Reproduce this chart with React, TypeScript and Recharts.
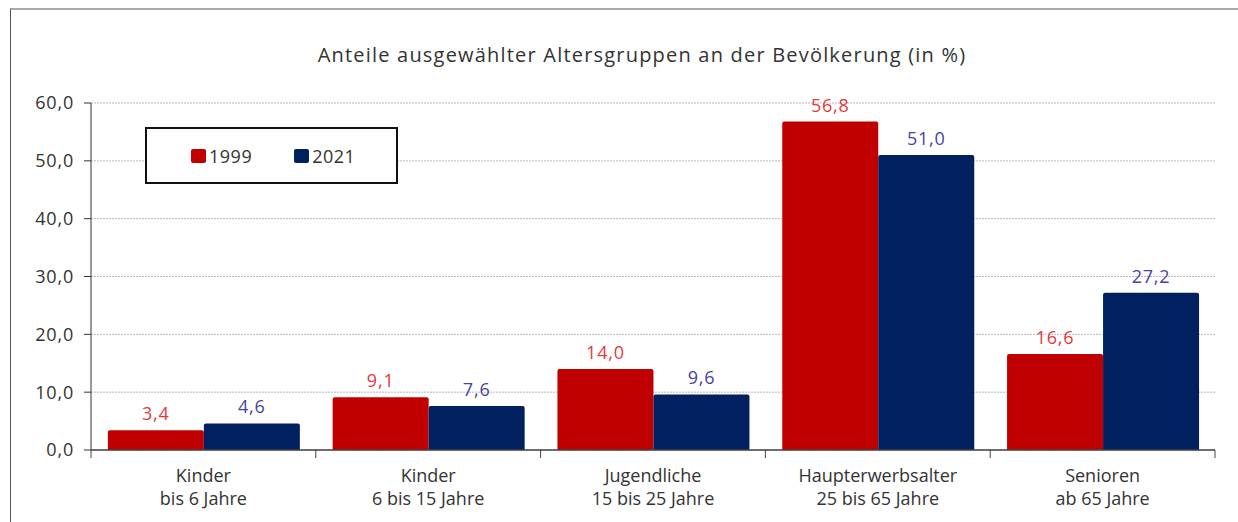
import React from "react";
import {
  Bar,
  BarChart,
  CartesianGrid,
  LabelList,
  XAxis,
  YAxis,
} from "recharts";

const categories = [
  ["Kinder", "bis 6 Jahre"],
  ["Kinder", "6 bis 15 Jahre"],
  ["Jugendliche", "15 bis 25 Jahre"],
  ["Haupterwerbsalter", "25 bis 65 Jahre"],
  ["Senioren", "ab 65 Jahre"],
];
const values1999 = [3.4, 9.1, 14.0, 56.8, 16.6];
const values2021 = [4.6, 7.6, 9.6, 51.0, 27.2];
const yTicks = [0, 10, 20, 30, 40, 50, 60];

const data = categories.map((c, i) => ({
  name: c.join("\n"),
  y1999: values1999[i],
  y2021: values2021[i],
}));

const WIDTH = 1238;
const HEIGHT = 522;
const MARGIN = { top: 103, right: 23, bottom: 12, left: 31 };
const Y_AXIS_W = 60;
const FONT = "'Open Sans', 'DejaVu Sans', sans-serif";
const RED = "#c00000";
const BLUE = "#002060";

const fmt = (v: number) => v.toFixed(1).replace(".", ",");

// half of one category band, used for the boundary tick marks
const HALF_BAND =
  (WIDTH - MARGIN.left - Y_AXIS_W - MARGIN.right) / categories.length / 2;

function CategoryTick(props: any) {
  const { x, y, payload, index } = props;
  const [l1, l2] = String(payload.value).split("\n");
  return (
    <g>
      <line x1={x - HALF_BAND} x2={x - HALF_BAND} y1={y} y2={y + 8} stroke="#444" />
      {index === categories.length - 1 && (
        <line x1={x + HALF_BAND} x2={x + HALF_BAND} y1={y} y2={y + 8} stroke="#444" />
      )}
      <text x={x} y={y + 32} textAnchor="middle" fill="#333" fontSize={18} fontFamily={FONT}>
        {l1}
      </text>
      <text x={x} y={y + 55} textAnchor="middle" fill="#333" fontSize={18} fontFamily={FONT}>
        {l2}
      </text>
    </g>
  );
}

function LegendBox() {
  const item = (color: string, label: string) => (
    <span style={{ display: "inline-flex", alignItems: "center", marginRight: 42 }}>
      <span
        style={{
          width: 15,
          height: 14,
          background: color,
          borderRadius: 2,
          display: "inline-block",
          marginRight: 3,
        }}
      />
      <span style={{ fontSize: 18, color: "#333", letterSpacing: 0.5 }}>{label}</span>
    </span>
  );
  return (
    <div
      style={{
        position: "absolute",
        left: 145,
        top: 127,
        boxSizing: "border-box",
        width: 253,
        height: 57,
        border: "2px solid #111",
        background: "#fff",
        display: "flex",
        alignItems: "center",
        paddingLeft: 44,
        fontFamily: FONT,
      }}
    >
      {item(RED, "1999")}
      {item(BLUE, "2021")}
    </div>
  );
}

export default function App() {
  return (
    <div
      style={{
        position: "absolute",
        left: 0,
        top: 0,
        width: WIDTH,
        height: HEIGHT,
        background: "#fff",
        fontFamily: FONT,
        overflow: "hidden",
      }}
    >
      <div
        style={{
          position: "absolute",
          left: 10,
          top: 8,
          width: WIDTH,
          height: HEIGHT,
          borderLeft: "1px solid #555",
          borderTop: "2px solid #aaa",
        }}
      />
      <div
        style={{
          position: "absolute",
          top: 41,
          left: 0,
          width: 1284,
          textAlign: "center",
          fontSize: 20,
          letterSpacing: 1.2,
          color: "#333",
        }}
      >
        Anteile ausgewählter Altersgruppen an der Bevölkerung (in %)
      </div>
      <div style={{ position: "absolute", left: 0, top: 0 }}>
        <BarChart
          width={WIDTH}
          height={HEIGHT}
          data={data}
          margin={MARGIN}
          barCategoryGap="7.5%"
          barGap={0}
        >
          <CartesianGrid
            vertical={false}
            stroke="#b8b8b8"
            strokeDasharray="2 1"
          />
          <XAxis
            dataKey="name"
            height={60}
            interval={0}
            tickSize={0}
            tickMargin={0}
            tickLine={false}
            axisLine={{ stroke: "#444", strokeWidth: 1.5 }}
            tick={<CategoryTick />}
          />
          <YAxis
            width={Y_AXIS_W}
            domain={[0, 60]}
            ticks={yTicks}
            tickFormatter={fmt}
            tickSize={7}
            tickMargin={10}
            axisLine={{ stroke: "#333" }}
            tickLine={{ stroke: "#333" }}
            tick={{ fill: "#333", fontSize: 18, fontFamily: FONT, letterSpacing: 0.8 }}
          />
          <Bar dataKey="y1999" name="1999" fill={RED} radius={[2, 2, 0, 0]} isAnimationActive={false}>
            <LabelList
              dataKey="y1999"
              position="top"
              offset={10}
              formatter={(v: any) => fmt(Number(v))}
              fill="#e03c3c"
              fontSize={18}
              fontFamily={FONT}
              letterSpacing={0.8}
            />
          </Bar>
          <Bar dataKey="y2021" name="2021" fill={BLUE} radius={[2, 2, 0, 0]} isAnimationActive={false}>
            <LabelList
              dataKey="y2021"
              position="top"
              offset={10}
              formatter={(v: any) => fmt(Number(v))}
              fill="#4444a8"
              fontSize={18}
              fontFamily={FONT}
              letterSpacing={0.8}
            />
          </Bar>
        </BarChart>
      </div>
      <LegendBox />
    </div>
  );
}
